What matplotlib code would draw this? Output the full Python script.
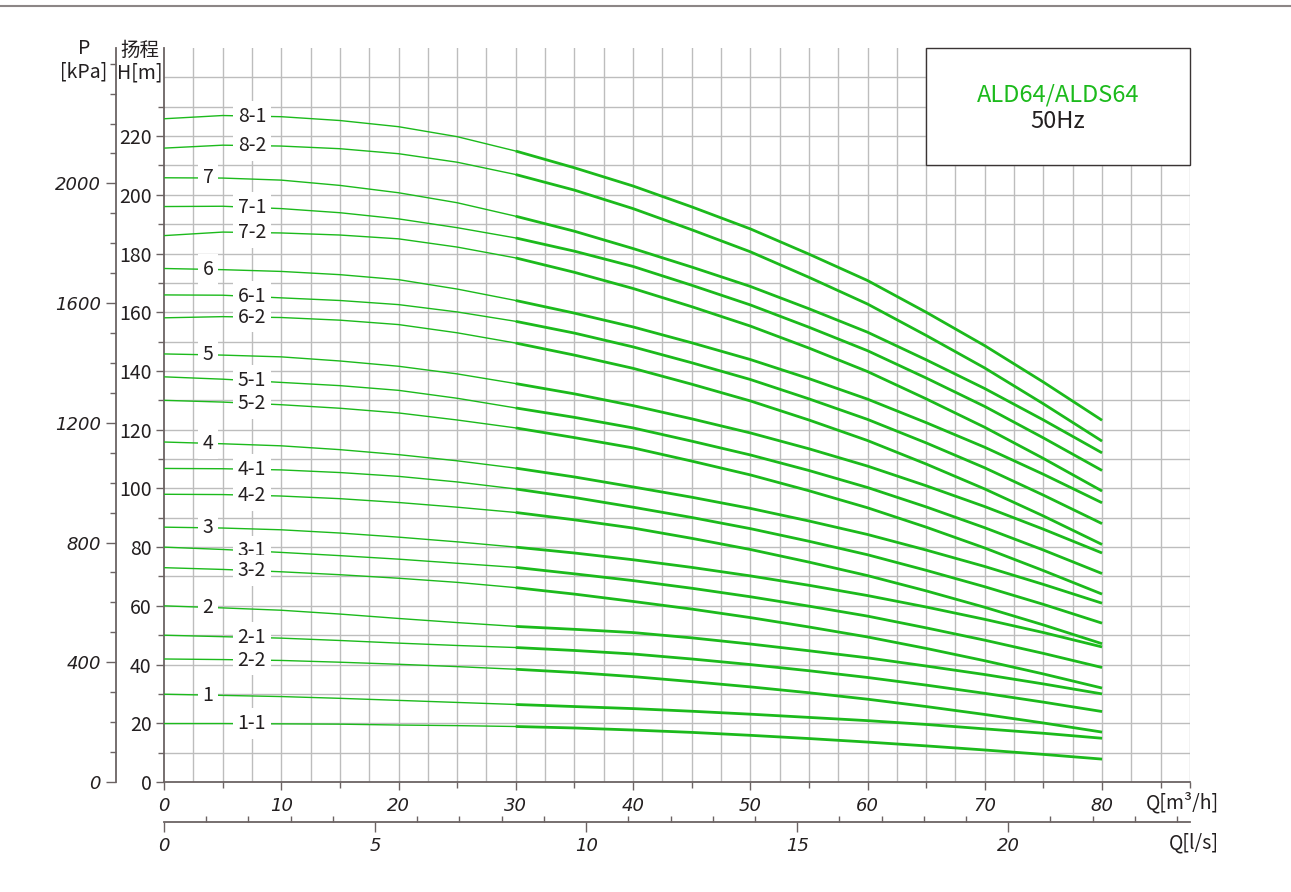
import numpy as np
import matplotlib
matplotlib.use('Agg')
import matplotlib.pyplot as plt
from matplotlib.patches import Rectangle
from matplotlib.lines import Line2D
from matplotlib.ticker import FixedLocator

plt.rcParams['font.family'] = ['Noto Sans CJK SC', 'DejaVu Sans']

# flow points (m3/h) where the heads were read
q = [0, 5, 10, 15, 20, 25, 30, 35, 40, 45, 50, 55, 60, 65, 70, 75, 80]

# head H [m] for each impeller combination
h_8_1 = [225.9, 227.0, 226.6, 225.3, 223.2, 219.8, 214.9, 209.2, 203.0, 195.9, 188.4, 179.8, 170.8, 160.0, 148.6, 136.2, 123.2]
h_8_2 = [215.9, 216.9, 216.6, 215.7, 214.0, 211.1, 206.9, 201.6, 195.3, 188.1, 180.6, 171.9, 162.8, 152.1, 141.0, 128.8, 116.1]
h_7 = [205.8, 205.7, 205.0, 203.2, 200.7, 197.3, 192.7, 187.6, 181.7, 175.4, 168.8, 161.2, 153.2, 143.8, 134.0, 123.3, 112.1]
h_7_1 = [196.0, 196.1, 195.3, 193.9, 191.8, 188.8, 185.3, 180.8, 175.6, 169.2, 162.5, 154.9, 146.9, 137.6, 127.9, 117.2, 106.1]
h_7_2 = [186.1, 187.3, 187.0, 186.3, 185.0, 182.2, 178.5, 173.6, 168.1, 161.9, 155.3, 147.8, 139.8, 130.5, 120.8, 110.2, 99.1]
h_6 = [174.9, 174.5, 173.9, 172.8, 171.1, 167.9, 164.0, 159.7, 155.0, 149.6, 143.9, 137.4, 130.4, 122.4, 114.0, 104.8, 95.1]
h_6_1 = [165.9, 165.8, 164.9, 164.0, 162.6, 160.1, 156.9, 152.9, 148.2, 142.8, 137.1, 130.5, 123.5, 115.5, 107.0, 97.7, 88.0]
h_6_2 = [158.1, 158.5, 158.2, 157.3, 155.8, 153.0, 149.5, 145.4, 140.9, 135.5, 129.8, 123.3, 116.3, 108.3, 99.8, 90.6, 80.9]
h_5 = [145.8, 145.4, 144.8, 143.4, 141.6, 139.0, 135.7, 132.2, 128.2, 123.7, 118.9, 113.5, 107.6, 100.9, 93.8, 86.1, 78.0]
h_5_1 = [138.0, 137.2, 136.1, 135.0, 133.4, 130.7, 127.4, 124.2, 120.6, 116.1, 111.4, 106.1, 100.3, 93.7, 86.6, 79.0, 71.0]
h_5_2 = [130.0, 129.4, 128.5, 127.3, 125.7, 123.3, 120.6, 117.3, 113.8, 109.3, 104.6, 99.2, 93.4, 86.8, 79.7, 72.0, 64.0]
h_4 = [115.8, 115.2, 114.5, 113.2, 111.5, 109.4, 106.9, 103.9, 100.5, 97.0, 93.2, 88.9, 84.3, 79.0, 73.4, 67.3, 60.9]
h_4_1 = [106.8, 106.7, 106.3, 105.4, 104.1, 102.2, 99.8, 96.9, 93.6, 90.1, 86.3, 82.0, 77.4, 72.1, 66.5, 60.5, 54.1]
h_4_2 = [98.0, 97.9, 97.4, 96.5, 95.2, 93.6, 91.8, 89.3, 86.5, 83.0, 79.2, 74.9, 70.3, 65.1, 59.5, 53.5, 47.1]
h_3 = [86.8, 86.5, 85.9, 84.8, 83.4, 81.8, 80.0, 78.0, 75.7, 73.1, 70.2, 67.0, 63.5, 59.6, 55.4, 50.9, 46.0]
h_3_1 = [80.0, 79.2, 78.2, 77.1, 75.9, 74.5, 73.1, 70.9, 68.6, 66.0, 63.1, 59.9, 56.5, 52.5, 48.3, 43.8, 39.0]
h_3_2 = [73.0, 72.4, 71.6, 70.6, 69.4, 68.0, 66.2, 64.0, 61.5, 58.9, 56.0, 52.8, 49.4, 45.5, 41.3, 36.8, 32.0]
h_2 = [60.0, 59.3, 58.5, 57.2, 55.7, 54.3, 53.0, 52.0, 50.9, 49.1, 47.0, 44.7, 42.3, 39.5, 36.6, 33.4, 30.0]
h_2_1 = [50.0, 49.5, 49.0, 48.2, 47.3, 46.5, 45.8, 44.8, 43.6, 41.9, 40.0, 37.9, 35.6, 33.0, 30.2, 27.2, 24.0]
h_2_2 = [41.9, 41.7, 41.4, 40.8, 40.1, 39.3, 38.4, 37.3, 35.9, 34.2, 32.4, 30.4, 28.2, 25.7, 23.0, 20.1, 17.0]
h_1 = [29.9, 29.5, 29.1, 28.5, 27.8, 27.1, 26.4, 25.7, 25.0, 24.1, 23.1, 22.0, 20.9, 19.6, 18.1, 16.6, 14.9]
h_1_1 = [19.9, 19.9, 19.8, 19.7, 19.4, 19.2, 18.9, 18.4, 17.7, 16.9, 15.9, 14.8, 13.6, 12.3, 10.9, 9.4, 7.8]

labels = ['8-1', '8-2', '7', '7-1', '7-2', '6', '6-1', '6-2', '5', '5-1', '5-2',
          '4', '4-1', '4-2', '3', '3-1', '3-2', '2', '2-1', '2-2', '1', '1-1']
heads = [h_8_1, h_8_2, h_7, h_7_1, h_7_2, h_6, h_6_1, h_6_2, h_5, h_5_1, h_5_2,
         h_4, h_4_1, h_4_2, h_3, h_3_1, h_3_2, h_2, h_2_1, h_2_2, h_1, h_1_1]

p_ticks = [0, 400, 800, 1200, 1600, 2000]
h_ticks = list(range(0, 221, 20))
q_ticks = list(range(0, 81, 10))
ls_ticks = [0, 5, 10, 15, 20]

green = '#1cba1c'
dark = '#231f20'
axc = '#6b6363'
gridc = '#bdbdbd'
px = 72 / 100  # one pixel in points

fig = plt.figure(figsize=(12.91, 8.92), dpi=100)
ax = fig.add_axes([164/1291, 1-782/892, (1190-164)/1291, (782-48)/892])
ax.set_xlim(0, 87.5)
ax.set_ylim(0, 250)

# grid
for x in np.arange(2.5, 87.6, 2.5):
    ax.axvline(x, color=gridc, lw=1.0, zorder=1)
for y in range(10, 241, 10):
    ax.axhline(y, color=gridc, lw=1.0, zorder=1)

# curves: thin below 30 m3/h, thick in the working range
qa = np.array(q)
for lab, h in zip(labels, heads):
    h = np.array(h)
    lo = qa <= 30
    hi = qa >= 30
    ax.plot(qa[lo], h[lo], color=green, lw=1.0, zorder=3)
    ax.plot(qa[hi], h[hi], color=green, lw=2.0, zorder=3, solid_capstyle='butt')
    xl = 3.75 if '-' not in lab else 7.5
    ax.text(xl, np.interp(xl, qa, h), lab, fontsize=14, color=dark,
            ha='center', va='center', zorder=4,
            bbox=dict(boxstyle='square,pad=0.25', fc='white', ec='none'))

# title box
ax.add_patch(Rectangle((65, 210), 22.5, 40, fc='white', ec='#3a3434', lw=1.0, zorder=5,
                       clip_on=False))
ax.text(76.25, 234, 'ALD64/ALDS64', color=green, fontsize=17, fontweight='medium',
        ha='center', va='center', zorder=6)
ax.text(76.25, 224.8, '50Hz', color=dark, fontsize=17, fontweight='medium',
        ha='center', va='center', zorder=6)

# H axis
for s in ['right', 'top']:
    ax.spines[s].set_visible(False)
ax.spines['left'].set_color(axc)
ax.spines['bottom'].set_color(axc)
ax.spines['left'].set_linewidth(1.3)
ax.spines['bottom'].set_linewidth(1.3)
ax.set_yticks(h_ticks)
ax.set_yticks(list(range(10, 250, 20)), minor=True)
ax.tick_params(axis='y', which='major', length=6, width=1, color=axc, labelsize=14,
               labelcolor=dark, pad=3)
ax.tick_params(axis='y', which='minor', length=4, width=1, color=axc)
ax.set_xticks(q_ticks)
ax.set_xticks([5, 15, 25, 35, 45, 55, 65, 75, 85, 87.5], minor=True)
ax.tick_params(axis='x', which='major', length=6, width=1, color=axc,
               labelcolor=dark, pad=5)
ax.tick_params(axis='x', which='minor', length=4, width=1, color=axc)
for t in ax.get_xticklabels():
    t.set_fontstyle('italic')
    t.set_family('DejaVu Sans')
    t.set_fontsize(13)

# P axis
ax2 = ax.twinx()
ax2.set_ylim(0, 250 * 9.81)
for s in ['right', 'top', 'bottom']:
    ax2.spines[s].set_visible(False)
ax2.spines['left'].set_visible(True)
ax2.spines['left'].set_position(('outward', 48 * px))
ax2.spines['left'].set_color(axc)
ax2.spines['left'].set_linewidth(1.3)
ax2.yaxis.set_ticks_position('left')
ax2.set_yticks(p_ticks)
ax2.set_yticks(list(range(100, 2450, 100)), minor=True)
ax2.tick_params(axis='y', which='major', length=7, width=1, color=axc,
                labelcolor=dark, pad=4)
ax2.tick_params(axis='y', which='minor', length=4, width=1, color=axc)
for t in ax2.get_yticklabels():
    t.set_fontstyle('italic')
    t.set_family('DejaVu Sans')
    t.set_fontsize(13)

# l/s axis
sec = ax.secondary_xaxis(-40/734, functions=(lambda v: v / 3.6, lambda v: v * 3.6))
sec.spines['bottom'].set_color(axc)
sec.spines['bottom'].set_linewidth(1.3)
sec.set_xticks(ls_ticks)
sec.xaxis.set_minor_locator(FixedLocator(list(range(0, 25))))
sec.tick_params(axis='x', which='major', length=7, width=1, color=axc,
                labelcolor=dark, pad=4)
sec.tick_params(axis='x', which='minor', length=4, width=1, color=axc, direction='in')
for t in sec.get_xticklabels():
    t.set_fontstyle('italic')
    t.set_family('DejaVu Sans')
    t.set_fontsize(13)

# axis titles
fig.text(84/1291, 1-48/892, 'P', fontsize=14, color=dark, ha='center', va='center')
fig.text(84/1291, 1-72/892, '[kPa]', fontsize=14, color=dark, ha='center', va='center')
fig.text(140/1291, 1-50/892, '扬程', fontsize=14, color=dark, ha='center', va='center')
fig.text(140/1291, 1-73/892, 'H[m]', fontsize=14, color=dark, ha='center', va='center')
fig.text(1146/1291, 1-803/892, 'Q[m³/h]', fontsize=14, color=dark, ha='left', va='center')
fig.text(1219/1291, 1-843/892, 'Q[l/s]', fontsize=14, color=dark, ha='right', va='center')

# outer frame line
fig.add_artist(Line2D([0, 1], [1-6/892, 1-6/892], color='#8c8686', lw=1.5))

fig.savefig('out.png', dpi=100)
